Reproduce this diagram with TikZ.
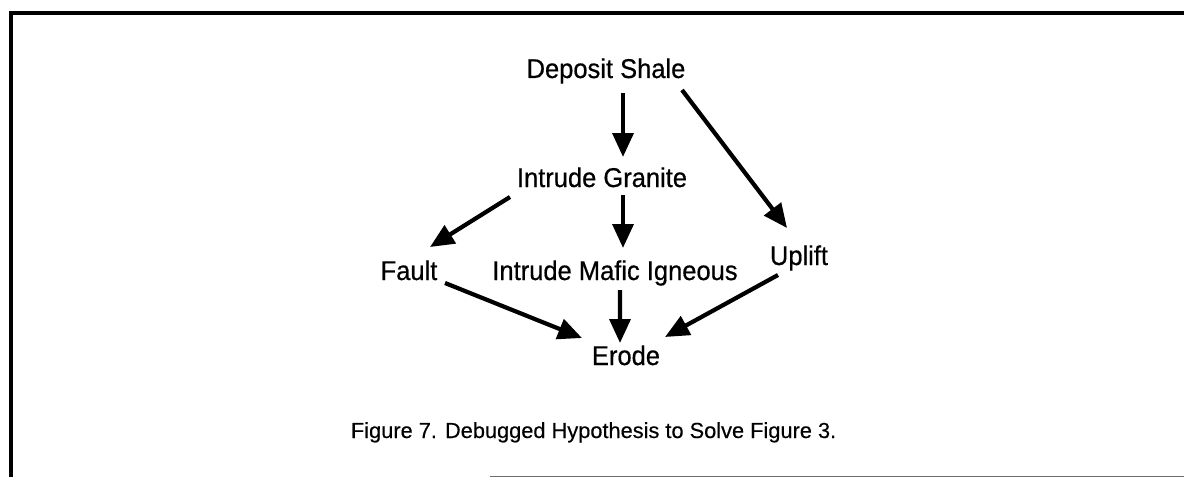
\documentclass[tikz,border=0pt]{standalone}
\usepackage{fontspec}
\setmainfont{Liberation Sans}
\newfontfamily\stepfont[FakeStretch=0.94,FakeBold=0.6]{Liberation Sans}
\newfontfamily\captfont[FakeBold=0.3]{Liberation Sans}
\usepackage{xcolor}
\usetikzlibrary{arrows.meta,positioning,calc}
\definecolor{cInk}{HTML}{000000}
\definecolor{cRule}{HTML}{6E6E6E}
\tikzset{
  step box/.style={anchor=base,inner sep=2pt,text=cInk,font=\stepfont\fontsize{19.3}{22}\selectfont},
  capt/.style={anchor=base,inner sep=0pt,text=cInk,font=\captfont\fontsize{15.5}{18}\selectfont},
  arr/.style={-{Triangle[length=0.6cm,width=0.52cm]},line width=3pt,color=cInk},
  frame/.style={line width=2.4pt,color=cInk},
}
\begin{document}
\begin{tikzpicture}[x=1cm,y=1cm]
  \useasboundingbox (0,0) rectangle (29.6,-11.925);
  % open frame round the figure
  \draw[frame] (0.275,-11.925) -- (0.275,-0.325) -- (29.6,-0.325);
  \draw[cRule,line width=0.6pt] (12.25,-11.9) -- (29.6,-11.9);

  \node[step box] (dep) at (15.15,-1.95)  {Deposit Shale};
  \node[step box] (gra) at (15.05,-4.675) {Intrude Granite};
  \node[step box] (fau) at (10.225,-7.0)  {Fault};
  \node[step box] (maf) at (15.375,-7.0)  {Intrude Mafic Igneous};
  \node[step box] (upl) at (19.975,-6.625) {Uplift};
  \node[step box] (ero) at (15.65,-9.125) {Erode};

  \draw[arr] ($(dep.base)+(0.425,-0.375)$) -- ($(gra.base)+(0.525,0.75)$);
  \draw[arr] ($(dep.base)+(1.9,-0.3)$)     -- ($(upl.base)+(-0.3,0.925)$);
  \draw[arr] ($(gra.base)+(-2.3,-0.25)$)   -- ($(fau.base)+(0.525,0.825)$);
  \draw[arr] ($(gra.base)+(0.525,-0.2)$)   -- ($(maf.base)+(0.2,0.8)$);
  \draw[arr] ($(fau.base)+(0.9,-0.075)$)   -- ($(ero.base)+(-1.1,0.675)$);
  \draw[arr] ($(maf.base)+(0.125,-0.25)$)  -- ($(ero.base)+(-0.15,0.55)$);
  \draw[arr] ($(upl.base)+(-0.525,-0.25)$) -- ($(ero.base)+(0.975,0.7)$);

  \node[capt] (cap) at (14.84,-10.95) {Figure 7. Debugged Hypothesis to Solve Figure 3.};
\end{tikzpicture}
\end{document}
